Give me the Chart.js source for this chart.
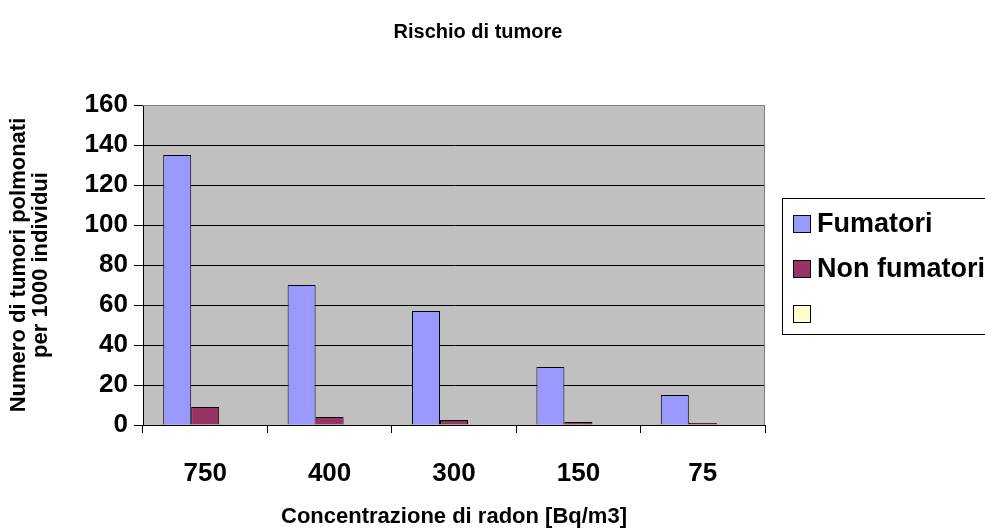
<!DOCTYPE html>
<html>
<head>
<meta charset="utf-8">
<script src="https://cdn.jsdelivr.net/npm/chart.js@4/dist/chart.umd.min.js"></script>
<style>
  html, body { margin: 0; padding: 0; background: #fff; }
  #wrap { width: 985px; height: 529px; position: relative; }
</style>
</head>
<body>
<div id="wrap"><canvas id="c"></canvas></div>
<script>
// ---------- Data ----------
const concentrazioni = ['750', '400', '300', '150', '75'];
const fumatori = [135, 70, 57, 29, 15];
const nonFumatori = [9, 4, 2.5, 1.5, 1];
const terzaSerie = [];
const yTicks = { min: 0, max: 160, step: 20 };

const FONT = 'Arial, "Liberation Sans", sans-serif';

// plot background, border, title and boxed legend in Excel style
const excelLook = {
  id: 'excelLook',
  beforeDraw(chart) {
    const { ctx, chartArea: a } = chart;
    ctx.save();
    ctx.fillStyle = '#C0C0C0';
    ctx.fillRect(a.left, a.top, a.right - a.left, a.bottom - a.top);
    ctx.restore();
  },
  afterDatasetsDraw(chart) {
    const { ctx, chartArea: a } = chart;
    ctx.save();
    ctx.strokeStyle = '#808080';
    ctx.lineWidth = 1;
    ctx.beginPath();
    ctx.moveTo(a.left, a.top + 0.5);
    ctx.lineTo(a.right - 0.5, a.top + 0.5);
    ctx.lineTo(a.right - 0.5, a.bottom);
    ctx.stroke();
    ctx.restore();
  },
  afterDraw(chart) {
    const { ctx } = chart;
    ctx.save();
    // title
    ctx.fillStyle = '#000';
    ctx.font = 'bold 20px ' + FONT;
    ctx.textAlign = 'center';
    ctx.textBaseline = 'middle';
    ctx.fillText('Rischio di tumore', 478, 32);

    // legend box
    ctx.fillStyle = '#fff';
    ctx.fillRect(783, 198, 210, 136);
    ctx.strokeStyle = '#000';
    ctx.lineWidth = 1;
    ctx.strokeRect(782.5, 198.5, 210, 136);
    ctx.font = 'bold 27px ' + FONT;
    ctx.textAlign = 'left';
    chart.data.datasets.forEach((ds, i) => {
      const cy = 224 + i * 45;
      ctx.fillStyle = ds.backgroundColor;
      ctx.fillRect(793, cy - 9, 17, 17);
      ctx.strokeStyle = '#000';
      ctx.strokeRect(793.5, cy - 8.5, 17, 17);
      ctx.fillStyle = '#000';
      ctx.fillText(ds.label, 817, cy + 1);
    });
    ctx.restore();
  },
};

new Chart(document.getElementById('c'), {
  type: 'bar',
  data: {
    labels: concentrazioni,
    datasets: [
      { label: 'Fumatori', data: fumatori, backgroundColor: '#9999FF', borderColor: '#000', borderWidth: 1 },
      { label: 'Non fumatori', data: nonFumatori, backgroundColor: '#993366', borderColor: '#000', borderWidth: 1 },
      { label: '', data: terzaSerie, backgroundColor: '#FFFFCC', borderColor: '#000', borderWidth: 1 },
    ],
  },
  options: {
    responsive: true, maintainAspectRatio: false, animation: false,
    layout: { padding: { top: 105, right: 220, left: 0, bottom: 0 } },
    datasets: { bar: { categoryPercentage: 0.675, barPercentage: 1 } },
    plugins: { legend: { display: false }, title: { display: false }, tooltip: { enabled: false } },
    scales: {
      x: {
        afterFit: (s) => { s.height = 104; },
        grid: { drawOnChartArea: false, drawTicks: true, tickLength: 8, tickColor: '#000', offset: true },
        border: { color: '#000', width: 1 },
        ticks: { color: '#000', font: { family: FONT, size: 26, weight: 'bold', lineHeight: 1.2 }, padding: 25 },
        title: {
          display: true, text: 'Concentrazione di radon [Bq/m3]', color: '#000',
          font: { family: FONT, size: 22, weight: 'bold', lineHeight: 1.2 }, padding: { top: 0, bottom: -1 },
        },
      },
      y: {
        min: yTicks.min, max: yTicks.max,
        afterFit: (s) => { s.width = 143; },
        grid: {
          color: (c) => (c.tick && c.tick.value === yTicks.max ? '#808080' : '#000'),
          tickColor: '#000', tickLength: 9,
        },
        border: { color: '#000', width: 1 },
        ticks: { stepSize: yTicks.step, color: '#000', font: { family: FONT, size: 26, weight: 'bold' }, padding: 6 },
        title: {
          display: true, text: ['Numero di tumori polmonati', 'per 1000 individui'], color: '#000',
          font: { family: FONT, size: 22, weight: 'bold', lineHeight: 1.0 }, padding: { top: 8, bottom: 0 },
        },
      },
    },
  },
  plugins: [excelLook],
});
</script>
</body>
</html>
